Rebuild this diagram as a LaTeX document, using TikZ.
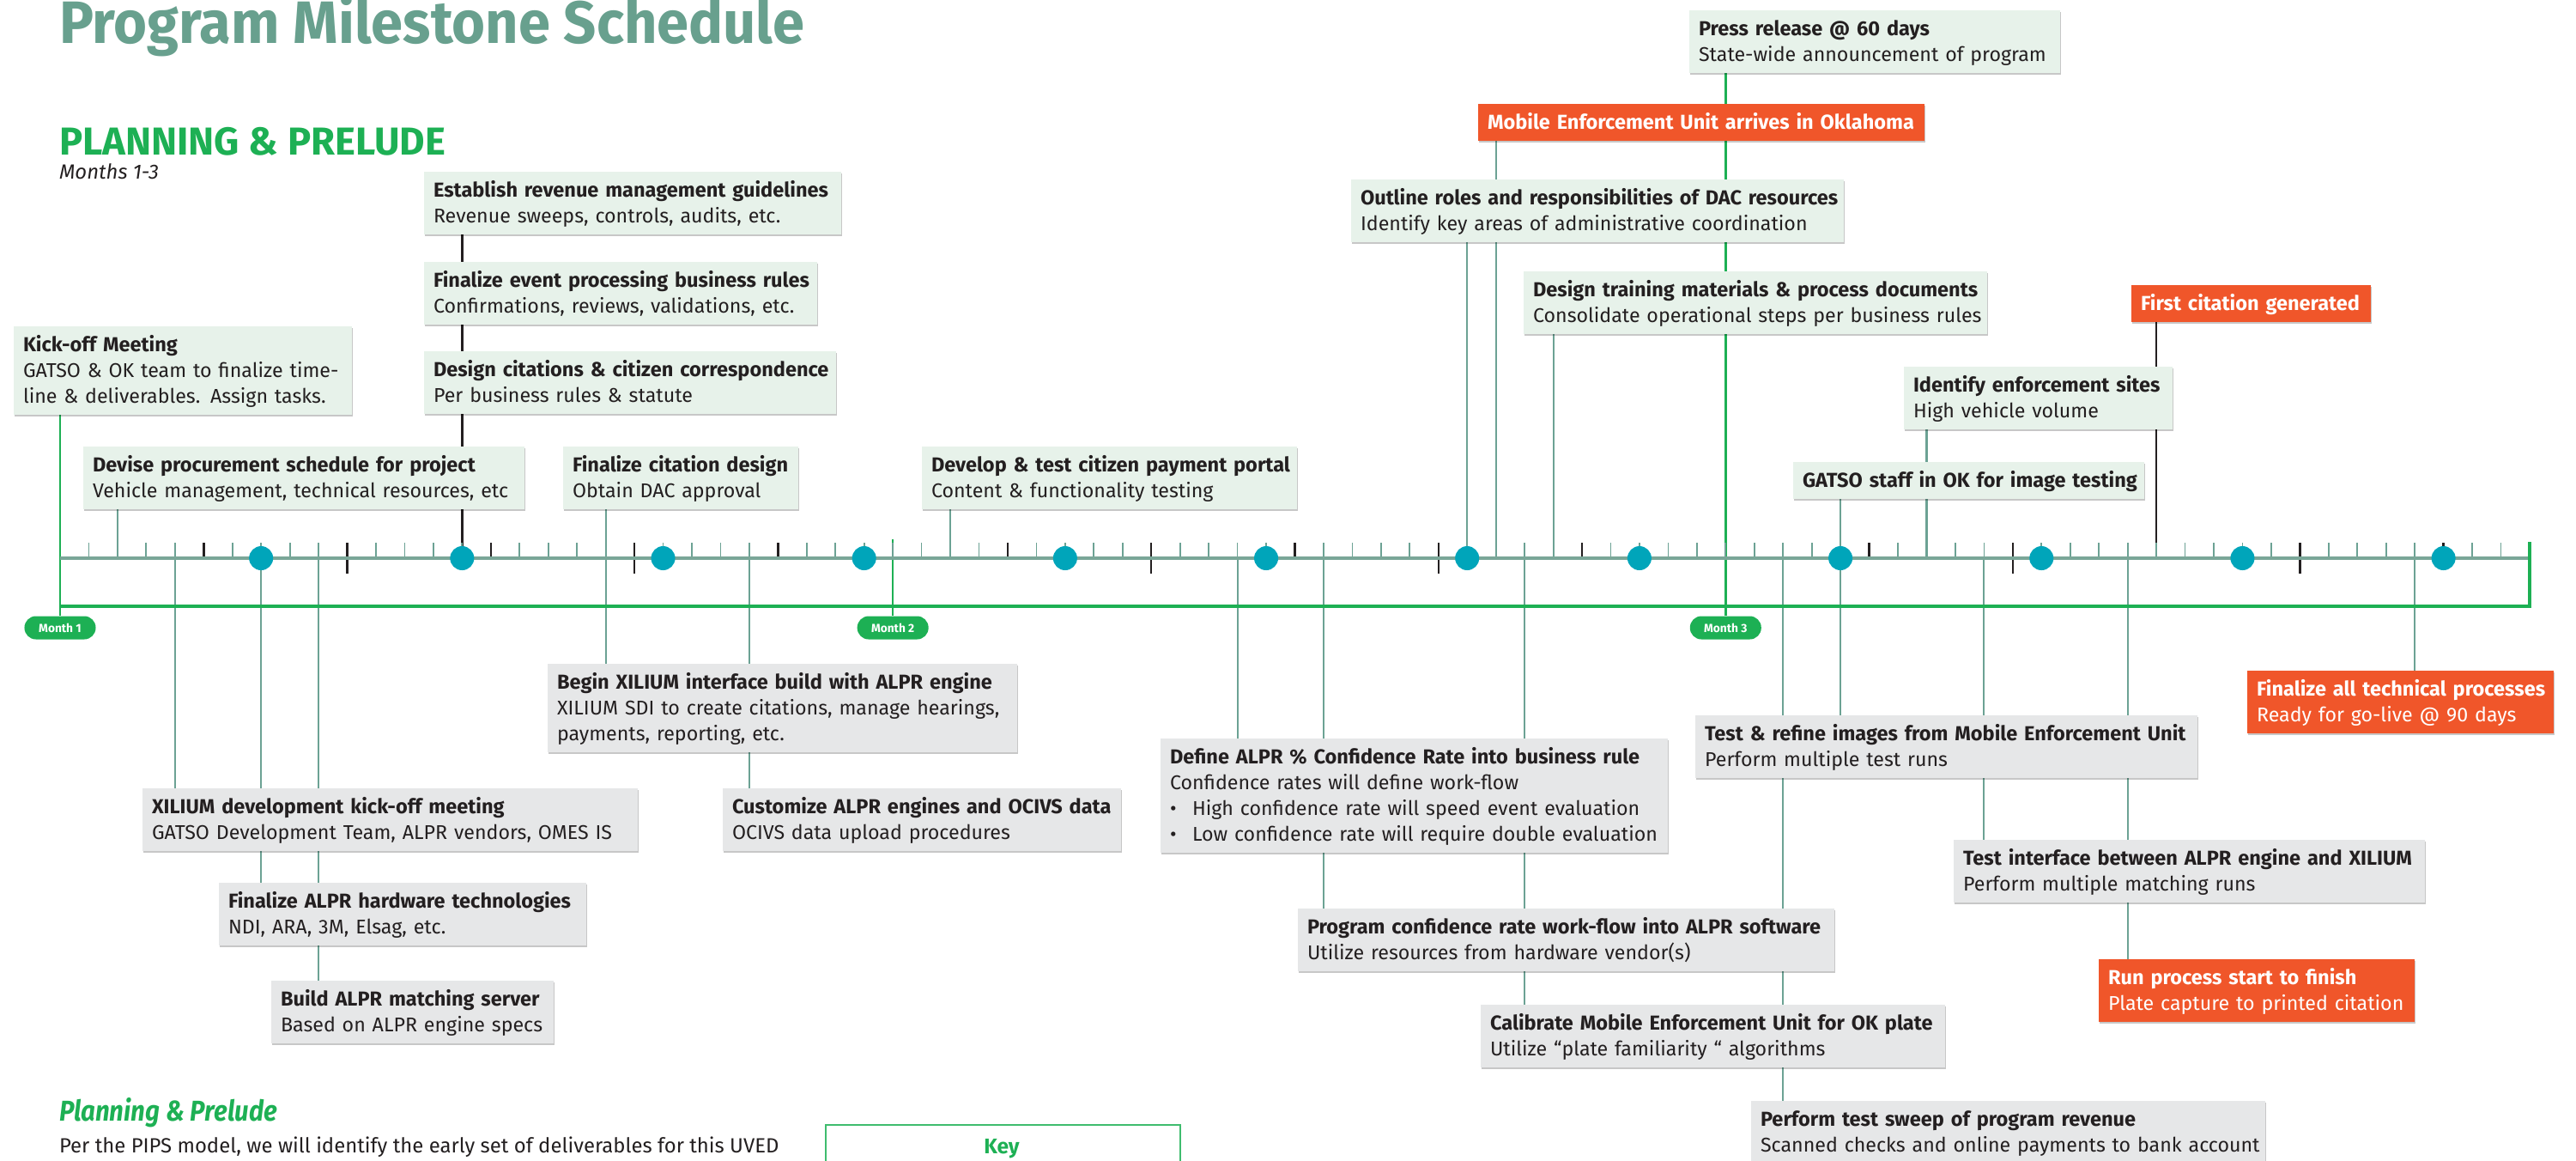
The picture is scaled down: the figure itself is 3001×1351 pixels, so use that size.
\documentclass[tikz,border=0pt]{standalone}
\usepackage{fontspec}
\setmainfont{Fira Sans}
\usetikzlibrary{shadows,calc}

\definecolor{ink}{RGB}{35,31,32}
\definecolor{titlec}{RGB}{104,160,142}
\definecolor{leaf}{RGB}{29,176,84}
\definecolor{mint}{RGB}{231,242,234}
\definecolor{mist}{RGB}{230,231,232}
\definecolor{flame}{RGB}{240,86,42}
\definecolor{sage}{RGB}{108,162,148}
\definecolor{rail}{RGB}{122,166,152}
\definecolor{dotc}{RGB}{0,165,186}

\pgfdeclarelayer{bg}
\pgfsetlayers{bg,main}

% text inside the milestone cards
\newcommand\boxfont{\fontsize{6.7pt}{8.5pt}\selectfont}
\newcommand\hd[1]{\rule{0pt}{8.5pt}\mbox{\bfseries #1}}
\newcommand\lnx[1]{\mbox{\fontsize{6.6pt}{8.5pt}\selectfont #1}}
\newcommand\bstrut{\rule[-3.7pt]{0pt}{3.7pt}}
\newcommand\bul[1]{\mbox{\fontsize{6.6pt}{8.5pt}\selectfont\makebox[7.4pt][l]{\textbullet}#1}}

\tikzset{
  card/.style={anchor=north west, inner xsep=0.11cm, inner ysep=0pt, outer sep=0pt,
    align=left, font=\boxfont, text=ink,
    drop shadow={shadow xshift=0.3pt, shadow yshift=-0.6pt, opacity=0.22, fill=black}},
  bw/.code={\pgfmathsetlengthmacro\bxw{#1*0.01cm}\pgfmathsetlengthmacro\bxtw{(#1-22)*0.01cm}%
    \tikzset{minimum width=\bxw,text width=\bxtw}},
  gcard/.style={card, fill=mint},
  ycard/.style={card, fill=mist},
  ocard/.style={card, fill=flame, text=white},
  sageline/.style={draw=sage, line width=0.6pt},
  inkline/.style={draw=ink, line width=0.7pt},
  leafline/.style={draw=leaf, line width=0.7pt},
  pill/.style={fill=leaf, text=white, rounded corners=3.8pt, minimum width=0.83cm,
    minimum height=0.27cm, inner sep=0pt, font=\fontsize{3.9pt}{4.5pt}\selectfont\bfseries},
  dot/.style={circle, fill=dotc, minimum size=0.28cm, inner sep=0pt},
  plain/.style={inner sep=0pt, outer sep=0pt},
}

\begin{document}
\begin{tikzpicture}[x=0.01cm, y=-0.01cm]
\useasboundingbox (0,0) rectangle (3001,1351);
\clip (0,0) rectangle (3001,1351);

% headings
\node[plain, anchor=base west, text=titlec, font=\fontsize{19.8pt}{22pt}\selectfont\bfseries] (title) at (69,50) {\scalebox{0.96}[1]{Program Milestone Schedule}};
\node[plain, anchor=base west, text=leaf, font=\fontsize{12.9pt}{14pt}\selectfont\bfseries] (phase) at (69,180) {PLANNING \& PRELUDE};
\node[plain, anchor=base west, text=ink, font=\fontsize{6.8pt}{8pt}\selectfont\itshape] (months) at (69,208) {Months 1-3};

% day axis
\foreach \k in {0,...,86} \coordinate (t\k) at ({70+\k*33.453},650);
\foreach \k in {1,...,85} \draw[sage, line width=0.5pt] (t\k) -- ++(0,-18);
\foreach \k in {5,15,25,33,43,53,63,83} \draw[ink, line width=0.7pt] (t\k) -- ++(0,-18);
\foreach \k in {10,20,38,48,68,78} \draw[ink, line width=0.7pt] ($(t\k)+(0,-18)$) -- ++(0,36);
\draw[rail, line width=1.3pt] (t0) -- (t86);

% month rail
\coordinate (g0) at ($(t0)+(0,56)$);
\coordinate (g1) at ($(t86)+(0,56)$);
\coordinate (g2) at ($(t86)+(0,-19)$);
\draw[leaf, line width=1.1pt] (g0) -- (g1) -- (g2);
\node[pill] (m1) at ($(t0)+(0,81)$) {Month 1};
\node[pill] (m2) at ($(t29)+(0,81)$) {Month 2};
\node[pill] (m3) at ($(t58)+(0,81)$) {Month 3};
\coordinate (m2top) at ($(t29)+(0,-22)$);

% weekly markers
\foreach \k in {7,14,21,28,35,42,49,55,62,69,76,83} \node[dot] (d\k) at (t\k) {};

% milestones above the axis
\node[gcard, bw=486] (rev) at (494,200) {\hd{Establish revenue management guidelines}\\\lnx{Revenue sweeps, controls, audits, etc.}\bstrut};
\node[gcard, bw=458] (evt) at (494,305) {\hd{Finalize event processing business rules}\\\lnx{Confirmations, reviews, validations, etc.}\bstrut};
\node[gcard, bw=480] (cit) at (494,409) {\hd{Design citations \& citizen correspondence}\\\lnx{Per business rules \& statute}\bstrut};
\node[gcard, bw=394] (kick) at (16,380) {\hd{Kick-off Meeting}\\\lnx{GATSO \& OK team to finalize time-}\\\lnx{line \& deliverables. Assign tasks.}\bstrut};
\node[gcard, bw=514] (proc) at (97,520) {\hd{Devise procurement schedule for project}\\\lnx{Vehicle management, technical resources, etc}\bstrut};
\node[gcard, bw=274] (fcd) at (656,520) {\hd{Finalize citation design}\\\lnx{Obtain DAC approval}\bstrut};
\node[gcard, bw=437] (portal) at (1074,520) {\hd{Develop \& test citizen payment portal}\\\lnx{Content \& functionality testing}\bstrut};
\node[gcard, bw=432] (press) at (1968,12) {\hd{Press release @ 60 days}\\\lnx{State-wide announcement of program}\bstrut};
\node[ocard, bw=520] (meu) at (1722,121) {\hd{Mobile Enforcement Unit arrives in Oklahoma}\bstrut};
\node[gcard, bw=574] (dac) at (1574,209) {\hd{Outline roles and responsibilities of DAC resources}\\\lnx{Identify key areas of administrative coordination}\bstrut};
\node[gcard, bw=540] (train) at (1775,316) {\hd{Design training materials \& process documents}\\\lnx{Consolidate operational steps per business rules}\bstrut};
\node[ocard, bw=279] (first) at (2483,332) {\hd{First citation generated}\bstrut};
\node[gcard, bw=313] (sites) at (2218,427) {\hd{Identify enforcement sites}\\\lnx{High vehicle volume}\bstrut};
\node[gcard, bw=409] (gstaff) at (2089,538) {\hd{GATSO staff in OK for image testing}\bstrut};

% milestones below the axis
\node[ycard, bw=577] (xdev) at (166,918) {\hd{XILIUM development kick-off meeting}\\\lnx{GATSO Development Team, ALPR vendors, OMES IS}\bstrut};
\node[ycard, bw=428] (hw) at (255,1028) {\hd{Finalize ALPR hardware technologies}\\\lnx{NDI, ARA, 3M, Elsag, etc.}\bstrut};
\node[ycard, bw=329] (srv) at (316,1142) {\hd{Build ALPR matching server}\\\lnx{Based on ALPR engine specs}\bstrut};
\node[ycard, bw=547] (xil) at (638,773) {\hd{Begin XILIUM interface build with ALPR engine}\\\lnx{XILIUM SDI to create citations, manage hearings,}\\\lnx{payments, reporting, etc.}\bstrut};
\node[ycard, bw=464] (ocivs) at (842,918) {\hd{Customize ALPR engines and OCIVS data}\\\lnx{OCIVS data upload procedures}\bstrut};
\node[ycard, bw=591] (conf) at (1352,860) {\hd{Define ALPR \% Confidence Rate into business rule}\\\lnx{Confidence rates will define work-flow}\\\bul{High confidence rate will speed event evaluation}\\\bul{Low confidence rate will require double evaluation}\bstrut};
\node[ycard, bw=625] (prog) at (1512,1058) {\hd{Program confidence rate work-flow into ALPR software}\\\lnx{Utilize resources from hardware vendor(s)}\bstrut};
\node[ycard, bw=541] (calib) at (1725,1170) {\hd{Calibrate Mobile Enforcement Unit for OK plate}\\\lnx{Utilize “plate familiarity “ algorithms}\bstrut};
\node[ycard, bw=599] (sweep) at (2040,1282) {\hd{Perform test sweep of program revenue}\\\lnx{Scanned checks and online payments to bank account}\bstrut};
\node[ycard, bw=585] (refine) at (1975,833) {\hd{Test \& refine images from Mobile Enforcement Unit}\\\lnx{Perform multiple test runs}\bstrut};
\node[ocard, bw=357] (final) at (2618,781) {\hd{Finalize all technical processes}\\\lnx{Ready for go-live @ 90 days}\bstrut};
\node[ycard, bw=549] (iface) at (2276,978) {\hd{Test interface between ALPR engine and XILIUM}\\\lnx{Perform multiple matching runs}\bstrut};
\node[ocard, bw=368] (run) at (2445,1117) {\hd{Run process start to finish}\\\lnx{Plate capture to printed citation}\bstrut};

% notes and key
\node[plain, anchor=base west, text=leaf, font=\fontsize{9.5pt}{11pt}\selectfont\bfseries\itshape] (notehd) at (69,1305) {\scalebox{0.88}[1]{Planning \& Prelude}};
\node[plain, anchor=base west, text=ink, font=\fontsize{6.8pt}{8pt}\selectfont] (note) at (69,1342) {Per the PIPS model, we will identify the early set of deliverables for this UVED};
\node[draw=leaf!85, line width=0.45pt, anchor=north west, minimum width=4.13cm, minimum height=1cm, inner sep=0pt] (key) at (961,1309) {};
\node[plain, anchor=base, text=leaf, font=\fontsize{7pt}{9pt}\selectfont\bfseries] (keyt) at (1167,1343) {Key};

% connectors
\begin{pgfonlayer}{bg}
\draw[inkline] (rev.south -| t14) -- (t14);
\draw[inkline] (first.south -| t73) -- (t73);
\draw[leafline] (kick.south -| m1.north) -- (m1.north);
\draw[leafline] (m2top) -- (m2.north);
\draw[leafline] (press.south -| m3.north) -- (m3.north);
\draw[sageline] (proc.south -| t2) -- (t2);
\draw[sageline] (fcd.south -| t19) -- (xil.north -| t19);
\draw[sageline] (portal.south -| t31) -- (t31);
\draw[sageline] (dac.south -| t49) -- (t49);
\draw[sageline] (meu.south -| t50) -- (t50);
\draw[sageline] (train.south -| t52) -- (t52);
\draw[sageline] (gstaff.south -| t62) -- (refine.north -| t62);
\draw[sageline] (sites.south -| t65) -- (t65);
\draw[sageline] (t4) -- (xdev.north -| t4);
\draw[sageline] (t7) -- (hw.north -| t7);
\draw[sageline] (t9) -- (srv.north -| t9);
\draw[sageline] (t24) -- (ocivs.north -| t24);
\draw[sageline] (t41) -- (conf.north -| t41);
\draw[sageline] (t44) -- (prog.north -| t44);
\draw[sageline] (t51) -- (calib.north -| t51);
\draw[sageline] (t60) -- (sweep.north -| t60);
\draw[sageline] (t67) -- (iface.north -| t67);
\draw[sageline] (t72) -- (run.north -| t72);
\draw[sageline] (t82) -- (final.north -| t82);
\end{pgfonlayer}
\end{tikzpicture}
\end{document}
